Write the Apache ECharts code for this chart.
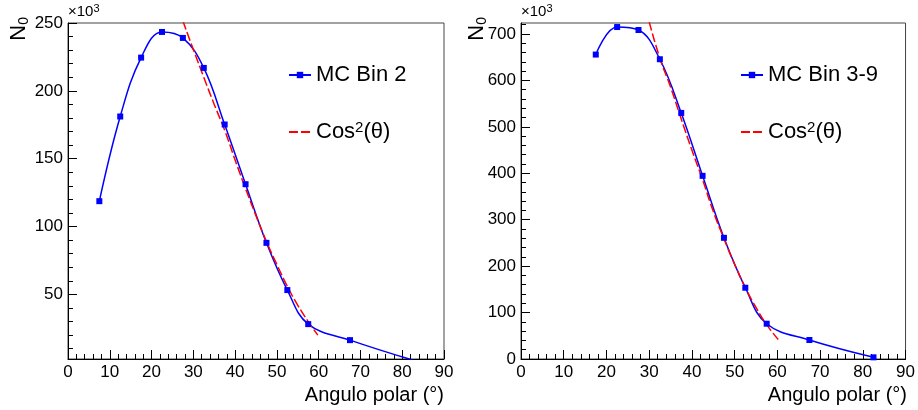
<!DOCTYPE html>
<html>
<head>
<meta charset="utf-8">
<title>N0 vs angulo polar</title>
<script src="https://cdn.jsdelivr.net/npm/echarts@6/dist/echarts.min.js"></script>
<style>
  html, body { margin: 0; padding: 0; background: #fff; }
  #chart { width: 918px; height: 410px; }
</style>
</head>
<body>
<div id="chart"></div>
<script>
// valores en unidades de 10^3
var bin2Angles = [7.5, 12.5, 17.5, 22.5, 27.5, 32.5, 37.5, 42.5, 47.5, 52.5, 57.5, 67.5, 82.5];
var bin2Counts = [118.7, 181.1, 224.5, 243.4, 239.0, 216.9, 175.2, 131.2, 88.0, 53.2, 28.1, 16.3, 1.6];
var bin39Angles = [17.5, 22.5, 27.5, 32.5, 37.5, 42.5, 47.5, 52.5, 57.5, 67.5, 82.5];
var bin39Counts = [655.7, 715.0, 708.6, 645.6, 530.0, 394.5, 261.0, 153.5, 76.0, 40.9, 3.6];

// curva cos^2
var cosAngles2 = [27.5, 30, 32.5, 35, 37.5, 40, 42.5, 45, 47.5, 50, 52.5, 55, 57.5, 59.8];
var cosFit2 = [251.5, 230.5, 210, 190, 171, 149, 128, 108, 89, 72, 56, 42, 30, 20];
var cosAngles39 = [30, 32.5, 35, 37.5, 40, 42.5, 45, 47.5, 50, 52.5, 55, 57.5, 60.2];
var cosFit39 = [726, 648, 586, 517, 450, 386, 318, 259, 204, 154, 111, 74, 42];

// ticks del eje y
var ticks2Major = [50, 100, 150, 200, 250];
var ticks2Minor = [10, 20, 30, 40, 60, 70, 80, 90, 110, 120, 130, 140, 160, 170, 180, 190, 210, 220, 230, 240];
var ticks39Major = [0, 100, 200, 300, 400, 500, 600, 700];
var ticks39Minor = [20, 40, 60, 80, 120, 140, 160, 180, 220, 240, 260, 280, 320, 340, 360, 380,
                    420, 440, 460, 480, 520, 540, 560, 580, 620, 640, 660, 680, 720];

var FONT = 'Liberation Sans, Arial, sans-serif';
var COS_NAME = 'Cos\u00b2(\u03b8)';

function pairs(xs, ys) {
    return xs.map(function (x, i) { return [x, ys[i]]; });
}

function xAxisFor(gi) {
    return {
        type: 'value', gridIndex: gi, min: 0, max: 90, interval: 10,
        axisLine: { lineStyle: { color: '#000', width: 1 } },
        axisTick: { inside: true, length: 9, lineStyle: { color: '#000' } },
        minorTick: { show: true, splitNumber: 5, length: 5, lineStyle: { color: '#000' } },
        axisLabel: { color: '#000', fontFamily: FONT, fontSize: 17, margin: 5 },
        splitLine: { show: false }
    };
}

function yMajor(gi, min, max, ticks) {
    return {
        type: 'value', gridIndex: gi, position: 'left', min: min, max: max,
        axisLine: { show: true, lineStyle: { color: '#000', width: 1 } },
        axisTick: { show: true, inside: true, length: 9, customValues: ticks, lineStyle: { color: '#000' } },
        axisLabel: { color: '#000', fontFamily: FONT, fontSize: 17, margin: 5, customValues: ticks },
        splitLine: { show: false }
    };
}

function yMinor(gi, min, max, ticks) {
    return {
        type: 'value', gridIndex: gi, position: 'left', min: min, max: max,
        axisLine: { show: false },
        axisTick: { show: true, inside: true, length: 5, customValues: ticks, lineStyle: { color: '#000' } },
        axisLabel: { show: false },
        splitLine: { show: false }
    };
}

function legendFor(left, mcName) {
    return {
        left: left, top: 64, orient: 'vertical', padding: 0, itemGap: 34,
        itemWidth: 22, itemHeight: 8, selectedMode: false,
        data: [
            { name: mcName },
            { name: COS_NAME, itemStyle: { opacity: 0 } }
        ],
        formatter: function (name) {
            if (name === COS_NAME) return '{t|Cos}{s|2}{t|(\u03b8)}';
            return '{t|' + name + '}';
        },
        textStyle: {
            color: '#000', fontFamily: FONT, fontSize: 22,
            rich: {
                t: { fontFamily: FONT, fontSize: 22, lineHeight: 24, color: '#000' },
                s: { fontFamily: FONT, fontSize: 15, lineHeight: 15, verticalAlign: 'top', color: '#000' }
            }
        }
    };
}

function titleTexts(xExp, xN, xRight) {
    return [
        {
            type: 'text', x: xExp, y: 3,
            style: {
                text: '{a|\u00d710}{b|3}', fill: '#000',
                rich: {
                    a: { fontFamily: FONT, fontSize: 15, lineHeight: 18 },
                    b: { fontFamily: FONT, fontSize: 11, lineHeight: 11, verticalAlign: 'top' }
                }
            }
        },
        {
            type: 'text', x: xN, y: 17, rotation: Math.PI / 2,
            style: {
                text: '{a|N}{b|0}', fill: '#000', align: 'right', verticalAlign: 'middle',
                rich: {
                    a: { fontFamily: FONT, fontSize: 22, lineHeight: 24 },
                    b: { fontFamily: FONT, fontSize: 14, lineHeight: 14, verticalAlign: 'bottom' }
                }
            }
        },
        {
            type: 'text', x: xRight, y: 395,
            style: {
                text: 'Angulo polar (\u00b0)', fill: '#000', align: 'right', verticalAlign: 'middle',
                fontFamily: FONT, fontSize: 20
            }
        }
    ];
}

var chart = echarts.init(document.getElementById('chart'), null, { renderer: 'canvas' });

var option = {
    animation: false,
    backgroundColor: '#fff',
    grid: [
        { left: 68, right: 474, top: 23, bottom: 51, show: true, borderColor: '#444', borderWidth: 1 },
        { left: 521, right: 11, top: 23, bottom: 51, show: true, borderColor: '#444', borderWidth: 1 }
    ],
    xAxis: [xAxisFor(0), xAxisFor(1)],
    yAxis: [
        yMajor(0, 2.4, 250, ticks2Major),
        yMinor(0, 2.4, 250, ticks2Minor),
        yMajor(1, 0, 723.7, ticks39Major),
        yMinor(1, 0, 723.7, ticks39Minor)
    ],
    legend: [
        legendFor(288, 'MC Bin 2'),
        legendFor(740, 'MC Bin 3-9')
    ],
    graphic: titleTexts(68, 19, 444).concat(titleTexts(521, 477, 907)),
    series: [
        {
            name: 'MC Bin 2', type: 'line', xAxisIndex: 0, yAxisIndex: 0,
            data: pairs(bin2Angles, bin2Counts), smooth: 0.4,
            symbol: 'rect', symbolSize: 6, showAllSymbol: true,
            lineStyle: { color: '#0000ff', width: 1.5 }, itemStyle: { color: '#0000ff' }
        },
        {
            name: COS_NAME, type: 'line', xAxisIndex: 0, yAxisIndex: 0,
            data: pairs(cosAngles2, cosFit2), smooth: true, symbol: 'none',
            lineStyle: { color: '#ff0000', width: 1.5, type: [9, 3] }, itemStyle: { color: '#ff0000' }
        },
        {
            name: 'MC Bin 3-9', type: 'line', xAxisIndex: 1, yAxisIndex: 2,
            data: pairs(bin39Angles, bin39Counts), smooth: 0.4,
            symbol: 'rect', symbolSize: 6, showAllSymbol: true,
            lineStyle: { color: '#0000ff', width: 1.5 }, itemStyle: { color: '#0000ff' }
        },
        {
            name: COS_NAME, type: 'line', xAxisIndex: 1, yAxisIndex: 2,
            data: pairs(cosAngles39, cosFit39), smooth: true, symbol: 'none',
            lineStyle: { color: '#ff0000', width: 1.5, type: [9, 3] }, itemStyle: { color: '#ff0000' }
        }
    ]
};

chart.setOption(option);
</script>
</body>
</html>
